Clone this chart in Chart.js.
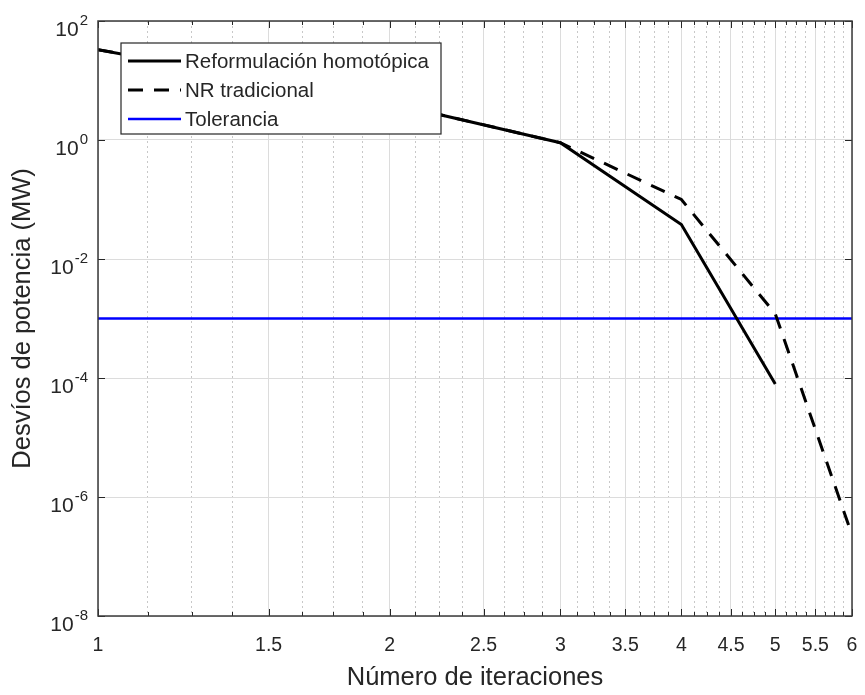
<!DOCTYPE html>
<html>
<head>
<meta charset="utf-8">
<title>Desvíos de potencia vs iteraciones</title>
<script src="https://cdn.jsdelivr.net/npm/chart.js@4.4.1/dist/chart.umd.min.js"></script>
<style>
  html, body { margin: 0; padding: 0; background: #fff; }
  #wrap { width: 865px; height: 695px; }
</style>
</head>
<body>
<div id="wrap"><canvas id="chart" width="865" height="695"></canvas></div>
<script>
// values
const iterations = [1, 2, 3, 4, 5, 6];
const homotopic = [33, 4.2, 0.9, 0.038, 7.9e-5];
const traditional = [33, 4.2, 0.9, 0.1, 1.2e-3, 2.3e-7];
const toleranceX = [1, 6];
const toleranceY = [1e-3, 1e-3];

// axis ticks
const xMajorTicks = [1, 1.5, 2, 2.5, 3, 3.5, 4, 4.5, 5, 5.5, 6];
const xMinorPerMajor = 4;
const yTicks = [1e-8, 1e-6, 1e-4, 1e-2, 1, 100];
const yTickExponents = ['-8', '-6', '-4', '-2', '0', '2'];

const seriesNames = ['Reformulación homotópica', 'NR tradicional', 'Tolerancia'];
const xTitle = 'Número de iteraciones';
const yTitle = 'Desvíos de potencia (MW)';

const FONT = '"Liberation Sans", Arial, Helvetica, sans-serif';
const TEXT = '#262626';

function points(xs, ys) {
    return ys.map((y, i) => ({ x: xs[i], y: y }));
}

// minor ticks: 4 steps between each pair of labelled ticks
const xAllTicks = [];
xMajorTicks.forEach((v, i) => {
    xAllTicks.push(v);
    if (i < xMajorTicks.length - 1) {
        const step = (xMajorTicks[i + 1] - v) / xMinorPerMajor;
        for (let k = 1; k < xMinorPerMajor; k++) xAllTicks.push(v + k * step);
    }
});
const isMajor = v => xMajorTicks.some(m => Math.abs(m - v) < 1e-9);

// box, inward ticks, 10^n labels and the boxed legend (matlab look)
const matlabFrame = {
    id: 'matlabFrame',
    afterDatasetsDraw(chart) {
        const { ctx, chartArea: a, scales } = chart;
        const x = scales.x, y = scales.y;
        ctx.save();

        // tick marks
        ctx.strokeStyle = '#262626';
        ctx.lineWidth = 1;
        ctx.beginPath();
        xAllTicks.forEach(v => {
            const px = Math.round(x.getPixelForValue(v)) + 0.5;
            const len = isMajor(v) ? 7 : 4;
            ctx.moveTo(px, a.bottom); ctx.lineTo(px, a.bottom - len);
            ctx.moveTo(px, a.top); ctx.lineTo(px, a.top + len);
        });
        yTicks.forEach(v => {
            const py = Math.round(y.getPixelForValue(v)) + 0.5;
            ctx.moveTo(a.left, py); ctx.lineTo(a.left + 7, py);
            ctx.moveTo(a.right, py); ctx.lineTo(a.right - 7, py);
        });
        ctx.stroke();

        // axes box
        ctx.lineWidth = 1.5;
        ctx.strokeStyle = '#3a3a3a';
        ctx.strokeRect(a.left, a.top, a.right - a.left, a.bottom - a.top);

        // y tick labels with superscript exponent
        ctx.fillStyle = TEXT;
        ctx.textBaseline = 'alphabetic';
        yTicks.forEach((v, i) => {
            const py = y.getPixelForValue(v);
            const right = a.left - 10;
            ctx.font = '15px ' + FONT;
            ctx.textAlign = 'right';
            const expW = ctx.measureText(yTickExponents[i]).width;
            ctx.fillText(yTickExponents[i], right, py + 4);
            ctx.font = '21px ' + FONT;
            ctx.fillText('10', right - expW - 1, py + 15);
        });

        // legend
        const ds = chart.data.datasets;
        const lx = a.left + 23, ly = a.top + 22, lw = 320, lh = 91;
        ctx.fillStyle = '#fff';
        ctx.fillRect(lx, ly, lw, lh);
        ctx.lineWidth = 1.2;
        ctx.strokeStyle = '#262626';
        ctx.strokeRect(lx, ly, lw, lh);
        ctx.font = '20.5px ' + FONT;
        ctx.textAlign = 'left';
        ctx.textBaseline = 'middle';
        ds.forEach((d, i) => {
            const ry = ly + 18 + i * 29;
            ctx.beginPath();
            ctx.setLineDash(d.borderDash || []);
            ctx.strokeStyle = d.borderColor;
            ctx.lineWidth = d.borderWidth;
            ctx.moveTo(lx + 7, ry);
            ctx.lineTo(lx + 60, ry);
            ctx.stroke();
            ctx.setLineDash([]);
            ctx.fillStyle = TEXT;
            ctx.fillText(d.label, lx + 64, ry + 1);
        });
        ctx.restore();
    }
};

new Chart(document.getElementById('chart'), {
    type: 'scatter',
    data: {
        datasets: [
            {
                label: seriesNames[0],
                data: points(iterations, homotopic),
                showLine: true,
                borderColor: '#000000',
                borderWidth: 3,
                pointRadius: 0
            },
            {
                label: seriesNames[1],
                data: points(iterations, traditional),
                showLine: true,
                borderColor: '#000000',
                borderWidth: 3,
                borderDash: [15, 11],
                pointRadius: 0
            },
            {
                label: seriesNames[2],
                data: points(toleranceX, toleranceY),
                showLine: true,
                borderColor: '#0000ff',
                borderWidth: 2.5,
                pointRadius: 0
            }
        ]
    },
    options: {
        responsive: false,
        animation: false,
        devicePixelRatio: 1,
        events: [],
        layout: { padding: { left: 0, top: 21, right: 13, bottom: 0 } },
        plugins: {
            legend: { display: false },
            tooltip: { enabled: false }
        },
        scales: {
            x: {
                type: 'logarithmic',
                min: 1,
                max: 6,
                afterBuildTicks: axis => {
                    axis.ticks = xAllTicks.map(v => ({ value: v }));
                },
                afterFit: axis => {
                    axis.height = 79;
                    axis.paddingLeft = 0;
                    axis.paddingRight = 0;
                },
                ticks: {
                    autoSkip: false,
                    maxRotation: 0,
                    padding: 18,
                    color: TEXT,
                    font: { family: FONT, size: 19.5 },
                    callback: v => isMajor(v) ? String(v) : ''
                },
                grid: {
                    drawTicks: false,
                    color: c => (c.tick && isMajor(c.tick.value)) ? '#dcdcdc' : '#c8c8c8',
                    lineWidth: 1
                },
                border: {
                    display: false,
                    dash: c => (c.tick && !isMajor(c.tick.value)) ? [2, 3] : []
                },
                title: {
                    display: true,
                    text: xTitle,
                    color: TEXT,
                    font: { family: FONT, size: 25.5 },
                    padding: { top: 0, bottom: 2 }
                }
            },
            y: {
                type: 'logarithmic',
                min: 1e-8,
                max: 100,
                afterBuildTicks: axis => {
                    axis.ticks = yTicks.map(v => ({ value: v }));
                },
                afterFit: axis => {
                    axis.width = 98;
                    axis.paddingTop = 0;
                    axis.paddingBottom = 0;
                },
                ticks: { display: false },
                grid: {
                    drawTicks: false,
                    color: '#dcdcdc',
                    lineWidth: 1
                },
                border: { display: false },
                title: {
                    display: true,
                    text: yTitle,
                    color: TEXT,
                    font: { family: FONT, size: 25.5 },
                    padding: { top: 8, bottom: 0 }
                }
            }
        }
    },
    plugins: [matlabFrame]
});
</script>
</body>
</html>
